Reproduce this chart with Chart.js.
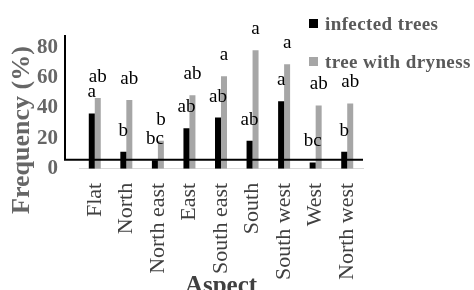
<!DOCTYPE html>
<html>
<head>
<meta charset="utf-8">
<script src="https://cdn.jsdelivr.net/npm/chart.js@4.4.1/dist/chart.umd.min.js"></script>
<style>
  html, body { margin: 0; padding: 0; background: #fff; }
  #wrap { width: 474px; height: 290px; }
</style>
</head>
<body>
<div id="wrap"><canvas id="chart" width="474" height="290"></canvas></div>
<script>
// Aspect classes and frequencies (%)
const aspects = ["Flat", "North", "North east", "East", "South east", "South", "South west", "West", "North west"];
const infectedTrees = [36.4, 11.2, 5.7, 26.7, 33.7, 18.5, 44.5, 4.2, 11.2];
const dryTrees = [46.5, 45.2, 18.5, 48.3, 60.8, 78, 68.8, 41.7, 43];

// Letters of the mean comparison test above each bar
const infectedLetters = ["a", "b", "bc", "ab", "ab", "ab", "a", "bc", "b"];
const dryLetters = ["ab", "ab", "b", "ab", "a", "a", "a", "ab", "ab"];

const yTicks = [0, 20, 40, 60, 80];
const axisCross = 6; // the black x axis line sits a little above zero

const serif = "'Liberation Serif', 'Times New Roman', serif";
Chart.defaults.font.family = serif;

// letters over the bars
const letterPlugin = {
    id: "letters",
    afterDatasetsDraw(chart) {
        const ctx = chart.ctx;
        const sets = [infectedLetters, dryLetters];
        ctx.save();
        ctx.font = "19px " + serif;
        ctx.fillStyle = "#000";
        ctx.textAlign = "center";
        ctx.textBaseline = "alphabetic";
        chart.data.datasets.forEach((ds, d) => {
            chart.getDatasetMeta(d).data.forEach((bar, i) => {
                ctx.fillText(sets[d][i], bar.x, bar.y - 16);
            });
        });
        ctx.restore();
    }
};

// black L shaped axis, drawn over the bars
const axisPlugin = {
    id: "blackAxis",
    afterDatasetsDraw(chart) {
        const { ctx, chartArea, scales } = chart;
        const y = scales.y.getPixelForValue(axisCross);
        const x0 = chartArea.left - 14;
        ctx.save();
        ctx.strokeStyle = "#000";
        ctx.lineWidth = 2;
        ctx.beginPath();
        ctx.moveTo(x0, chartArea.top);
        ctx.lineTo(x0, y);
        ctx.lineTo(chartArea.right, y);
        ctx.stroke();
        ctx.restore();
    }
};

// y title sits lower than the plot centre, and the legend floats top right
const extrasPlugin = {
    id: "extras",
    afterDraw(chart) {
        const ctx = chart.ctx;
        ctx.save();
        ctx.translate(22, 130);
        ctx.rotate(-Math.PI / 2);
        ctx.font = "bold 26px " + serif;
        ctx.fillStyle = "#666666";
        ctx.textAlign = "center";
        ctx.textBaseline = "middle";
        ctx.fillText("Frequency (%)", 0, 0);
        ctx.restore();

        const rows = [30, 68];
        ctx.save();
        ctx.font = "bold 19px " + serif;
        ctx.letterSpacing = "0.4px";
        ctx.textBaseline = "alphabetic";
        ctx.textAlign = "left";
        chart.data.datasets.forEach((ds, i) => {
            ctx.fillStyle = ds.backgroundColor;
            ctx.fillRect(309, rows[i] - 11, 9, 9);
            ctx.fillStyle = "#595959";
            ctx.fillText(ds.label, 325, rows[i]);
        });
        ctx.restore();
    }
};

new Chart(document.getElementById("chart"), {
    type: "bar",
    data: {
        labels: aspects,
        datasets: [
            {
                label: "infected trees",
                data: infectedTrees,
                backgroundColor: "#000000",
                categoryPercentage: 0.38,
                barPercentage: 1.0
            },
            {
                label: "tree with dryness",
                data: dryTrees,
                backgroundColor: "#a6a6a6",
                categoryPercentage: 0.38,
                barPercentage: 1.0
            }
        ]
    },
    options: {
        responsive: false,
        animation: false,
        layout: { padding: { top: 35, right: 111, left: 16, bottom: 0 } },
        plugins: {
            legend: { display: false },
            tooltip: { enabled: false }
        },
        scales: {
            x: {
                grid: { display: false, drawTicks: false },
                border: { display: true, color: "#d9d9d9", width: 1 },
                ticks: {
                    autoSkip: false,
                    minRotation: 90,
                    maxRotation: 90,
                    padding: 14,
                    color: "#404040",
                    font: { size: 22 }
                },
                title: {
                    display: true,
                    text: "Aspect",
                    color: "#404040",
                    font: { size: 25, weight: "bold", lineHeight: 1.2 },
                    padding: { top: -22, bottom: -12 }
                }
            },
            y: {
                min: 0,
                max: 88,
                grid: { display: false, drawTicks: false },
                border: { display: false },
                afterBuildTicks(scale) {
                    scale.ticks = yTicks.map(v => ({ value: v }));
                },
                ticks: {
                    padding: 21,
                    color: "#666666",
                    font: { size: 21, weight: "bold" }
                }
            }
        }
    },
    plugins: [letterPlugin, axisPlugin, extrasPlugin]
});
</script>
</body>
</html>
